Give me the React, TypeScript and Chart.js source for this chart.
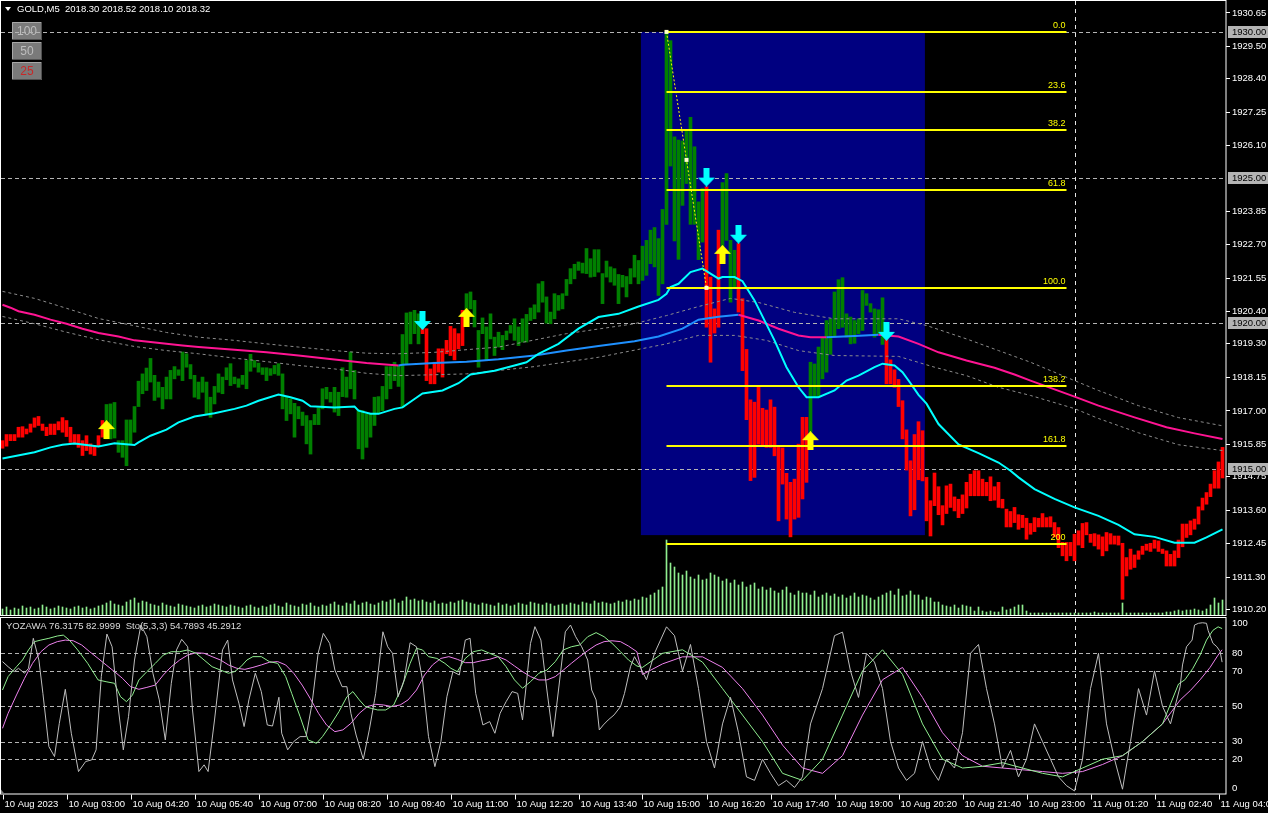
import React, { useEffect, useRef } from "react";
import { Chart, registerables } from "chart.js";

Chart.register(...registerables);

const FONT = "'Liberation Sans', Arial, sans-serif";
const FS = 9.5;

// ---------- price bars (5-minute, GOLD) ----------
const barLow = [
  1915.72,1915.79,1915.98,1915.98,1916.10,1916.10,1916.21,1916.27,1916.44,1916.50,
  1916.33,1916.15,1916.19,1916.19,1916.35,1916.27,1916.12,1915.92,1915.87,1915.75,
  1915.47,1915.64,1915.52,1915.47,1915.78,1916.10,1916.04,1916.04,1916.07,1915.58,
  1915.41,1915.12,1915.84,1916.27,1917.15,1917.59,1917.70,1917.99,1917.36,1917.47,
  1917.07,1917.41,1917.41,1918.10,1918.22,1918.04,1918.50,1918.10,1917.47,1917.41,
  1917.64,1916.90,1916.78,1917.24,1917.64,1917.59,1918.07,1917.87,1917.93,1917.81,
  1917.91,1917.76,1918.36,1918.50,1918.33,1918.25,1918.04,1918.22,1918.27,1918.22,
  1917.07,1916.67,1916.90,1916.10,1916.73,1916.50,1915.87,1915.52,1916.53,1916.53,
  1917.07,1917.41,1917.30,1916.96,1916.84,1917.49,1917.47,1917.76,1917.41,1915.70,
  1915.35,1915.75,1916.10,1916.50,1916.90,1917.01,1917.41,1917.76,1918.04,1917.84,
  1917.13,1918.62,1919.30,1919.65,1919.30,1919.65,1918.04,1917.93,1917.93,1918.33,
  1918.16,1918.96,1918.90,1918.75,1919.13,1919.24,1920.45,1920.50,1919.88,1918.50,
  1919.65,1918.73,1919.47,1918.90,1919.19,1919.10,1919.44,1919.67,1919.42,1919.24,
  1919.36,1919.36,1920.10,1920.16,1920.39,1920.73,1920.01,1919.99,1920.16,1920.45,
  1920.50,1920.96,1921.36,1921.53,1921.82,1921.73,1921.71,1921.59,1921.61,1921.76,
  1920.68,1921.59,1921.42,1921.31,1920.68,1921.25,1920.91,1921.36,1921.59,1921.36,
  1921.48,1921.65,1922.05,1921.94,1920.96,1921.36,1923.40,1925.40,1922.83,1922.20,
  1924.05,1924.80,1923.40,1923.40,1922.19,1922.79,1919.87,1918.67,1919.67,1919.87,
  1922.51,1922.85,1920.73,1921.25,1920.39,1918.38,1916.70,1914.61,1914.72,1915.86,
  1915.81,1915.75,1915.75,1915.46,1913.23,1914.49,1913.29,1912.68,1913.29,1913.35,
  1913.98,1914.55,1916.27,1917.47,1917.47,1918.10,1918.33,1918.94,1919.53,1919.82,
  1919.87,1919.53,1919.30,1919.32,1919.65,1919.76,1920.62,1920.39,1919.53,1919.65,
  1919.28,1917.93,1917.93,1917.81,1917.15,1916.04,1914.97,1913.40,1913.61,1914.64,
  1914.60,1913.23,1912.71,1913.75,1913.44,1913.09,1913.48,1913.69,1913.57,1913.34,
  1913.48,1913.67,1914.09,1914.09,1914.09,1914.09,1914.09,1913.92,1913.94,1913.69,
  1913.67,1913.02,1913.02,1913.17,1912.94,1913.00,1912.60,1912.77,1912.86,1913.02,
  1913.02,1913.02,1913.02,1912.68,1912.31,1912.03,1911.86,1912.03,1911.86,1912.40,
  1912.31,1912.75,1912.49,1912.37,1912.26,1912.03,1912.20,1912.43,1912.43,1912.40,
  1910.54,1911.34,1911.57,1911.63,1911.91,1912.08,1912.22,1912.18,1912.29,1912.18,
  1912.11,1911.68,1911.68,1911.68,1911.97,1912.34,1912.66,1912.75,1912.94,1913.12,
  1913.60,1913.80,1914.06,1914.35,1914.35,1914.70,
];
const barHigh = [
  1915.98,1916.19,1916.19,1916.19,1916.44,1916.46,1916.38,1916.55,1916.76,1916.81,
  1916.55,1916.44,1916.55,1916.55,1916.63,1916.77,1916.67,1916.44,1916.19,1916.19,
  1915.98,1916.15,1915.87,1915.81,1916.15,1916.67,1917.22,1917.24,1917.29,1915.98,
  1915.98,1916.69,1916.69,1917.15,1918.02,1918.27,1918.47,1918.80,1918.22,1917.99,
  1917.81,1918.16,1918.39,1918.52,1918.41,1919.02,1918.96,1918.59,1918.22,1917.99,
  1918.16,1917.99,1917.47,1917.84,1918.27,1918.16,1918.48,1918.62,1918.16,1918.10,
  1918.22,1918.73,1918.94,1918.73,1918.64,1918.48,1918.48,1918.45,1918.56,1918.62,
  1918.27,1917.47,1917.41,1917.26,1917.15,1916.96,1916.84,1916.67,1916.88,1917.10,
  1917.76,1917.81,1917.64,1917.81,1917.64,1918.48,1918.16,1919.02,1918.39,1917.04,
  1917.01,1916.90,1916.92,1917.47,1917.49,1917.84,1918.52,1918.52,1918.67,1918.56,
  1919.62,1920.36,1920.39,1920.45,1920.33,1920.25,1919.82,1918.44,1918.67,1919.13,
  1919.13,1919.42,1919.90,1919.82,1919.65,1920.45,1921.02,1921.08,1920.79,1919.76,
  1920.19,1919.88,1920.33,1919.53,1919.70,1919.59,1919.74,1919.93,1920.16,1919.88,
  1920.16,1920.31,1920.53,1920.64,1921.36,1921.44,1920.91,1920.39,1921.02,1920.96,
  1921.02,1921.51,1921.88,1922.03,1922.11,1922.07,1922.57,1922.22,1922.53,1922.53,
  1921.71,1922.14,1921.94,1921.88,1921.68,1921.65,1921.61,1921.88,1922.34,1922.16,
  1922.65,1922.85,1923.20,1923.29,1922.91,1923.91,1930.01,1929.70,1926.40,1926.29,
  1926.26,1926.63,1927.07,1926.06,1924.17,1924.63,1924.69,1921.59,1920.50,1923.20,
  1924.83,1925.14,1922.85,1922.51,1922.74,1920.85,1919.11,1917.38,1917.30,1917.87,
  1917.09,1917.03,1917.38,1917.13,1915.75,1915.73,1914.86,1914.55,1914.66,1915.86,
  1916.78,1916.78,1918.67,1918.61,1919.19,1919.51,1920.10,1920.16,1921.08,1921.50,
  1921.57,1920.33,1920.22,1920.10,1920.16,1921.13,1921.02,1920.68,1920.50,1920.47,
  1920.88,1919.65,1918.75,1918.41,1918.08,1917.35,1916.35,1915.29,1916.19,1916.63,
  1916.32,1914.72,1913.92,1914.87,1914.40,1913.75,1914.43,1914.49,1914.05,1913.97,
  1914.12,1914.55,1914.83,1914.95,1914.95,1914.66,1914.55,1914.74,1914.40,1914.55,
  1913.97,1913.63,1913.55,1913.69,1913.44,1913.42,1913.32,1913.14,1913.34,1913.32,
  1913.48,1913.34,1913.37,1913.17,1913.00,1912.49,1912.49,1912.49,1912.77,1912.89,
  1913.14,1913.17,1912.77,1912.79,1912.75,1912.68,1912.83,1912.79,1912.71,1912.71,
  1912.46,1911.97,1912.26,1912.06,1912.20,1912.36,1912.43,1912.46,1912.57,1912.54,
  1912.26,1912.20,1912.08,1912.20,1912.57,1913.12,1913.12,1913.23,1913.29,1913.71,
  1914.01,1914.20,1914.49,1914.95,1915.25,1915.75,
];
const tickVolume = [
  60,80,50,70,60,90,70,80,60,70,100,80,60,70,90,80,70,60,80,90,70,80,60,70,90,100,
  120,140,110,100,90,130,150,170,120,140,130,110,100,90,120,
  100,90,80,110,100,90,80,70,90,100,80,90,110,100,90,80,100,90,80,70,
  90,100,80,70,90,80,100,110,90,80,120,100,90,80,110,100,120,90,80,100,90,110,130,100,90,120,110,140,100,120,
  130,110,100,120,140,130,150,160,120,140,180,150,160,140,150,130,120,140,110,120,
  110,130,120,140,150,130,120,110,100,120,110,100,90,120,100,110,90,100,120,110,100,130,120,110,100,120,110,90,100,110,
  100,120,110,100,130,120,110,140,120,130,120,110,120,140,130,150,140,160,150,180,170,200,220,250,280,
  750,520,480,420,400,440,380,360,400,350,
  360,420,400,380,340,360,320,350,300,330,280,300,320,260,280,250,270,240,220,250,280,220,200,240,220,
  220,200,240,180,200,220,190,210,180,200,170,190,220,180,200,190,170,150,180,200,220,240,200,260,190,
  200,240,200,200,150,180,170,130,130,100,90,80,100,70,100,
  90,80,40,80,40,30,40,30,30,80,50,60,80,100,100,40,20,20,20,20,20,20,20,20,20,20,20,20,
  20,20,20,20,30,20,20,20,20,20,20,120,20,20,20,20,20,20,20,20,20,20,30,30,40,
  50,40,50,50,60,50,40,60,100,170,120,150,
];

// ---------- signals (arrows) ----------
const signalIdx = [26, 105, 116, 176, 180, 184, 202, 221];
const signalDir = [1, -1, 1, -1, 1, -1, 1, -1];
const signalPrice = [1916.36, 1920.10, 1920.21, 1925.02, 1922.37, 1923.06, 1915.98, 1919.73];

// ---------- moving averages ----------
const fastMaIdx = [0,8,12,15,18,22,24,28,33,34,37,41,44,48,53,58,61,64,69,72,75,77,83,88,89,92,94,98,100,103,105,110,114,117,123,128,131,134,139,144,149,154,159,164,166,167,169,172,175,179,180,183,185,188,193,196,199,201,204,208,211,214,218,220,223,225,227,229,231,234,239,244,249,252,254,258,263,268,274,279,283,288,293,298,301,305];
const fastMaVal = [1915.37,1915.58,1915.75,1915.84,1915.88,1915.81,1915.78,1915.89,1915.83,1915.92,1916.15,1916.36,1916.61,1916.81,1916.92,1917.07,1917.18,1917.35,1917.56,1917.47,1917.35,1917.16,1917.12,1917.15,1917.01,1916.90,1916.90,1917.07,1917.12,1917.41,1917.60,1917.70,1917.95,1918.25,1918.38,1918.56,1918.67,1918.96,1919.30,1919.82,1920.22,1920.33,1920.58,1920.81,1921.02,1921.25,1921.36,1921.76,1921.88,1921.54,1921.59,1921.59,1921.45,1920.79,1919.42,1918.50,1917.81,1917.47,1917.47,1917.70,1918.04,1918.21,1918.50,1918.62,1918.56,1918.33,1917.95,1917.55,1917.25,1916.55,1915.85,1915.55,1915.23,1914.95,1914.72,1914.32,1913.98,1913.69,1913.40,1913.09,1912.77,1912.68,1912.48,1912.48,1912.66,1912.94];

const slowMaIdx = [0,2,4,8,12,16,20,24,29,33,37,41,45,49,58,66,74,83,91,99,100,108,116,124,133,141,149,158,164,170,174,179,184,189,194,199,202,206,213,219,224,229,234,241,248,253,257,268,274,283,291,298,305];
const slowMaVal = [1920.64,1920.54,1920.42,1920.30,1920.13,1919.99,1919.82,1919.67,1919.55,1919.42,1919.36,1919.30,1919.24,1919.19,1919.10,1919.01,1918.90,1918.76,1918.64,1918.56,1918.58,1918.64,1918.69,1918.77,1918.90,1919.07,1919.23,1919.39,1919.55,1919.82,1920.13,1920.23,1920.30,1920.10,1919.82,1919.59,1919.53,1919.53,1919.57,1919.61,1919.55,1919.30,1919.01,1918.73,1918.48,1918.25,1918.04,1917.49,1917.18,1916.78,1916.44,1916.23,1916.04];

const envUpIdx = [0,8,16,24,33,41,49,58,66,74,83,91,99,108,124,141,158,166,174,182,189,198,208,224,231,241,249,257,268,274,284,294,305];
const envUpVal = [1921.10,1920.86,1920.52,1920.17,1919.92,1919.69,1919.53,1919.42,1919.30,1919.19,1919.07,1918.98,1918.96,1919.01,1919.19,1919.65,1919.99,1920.27,1920.58,1920.86,1920.72,1920.38,1920.16,1920.16,1919.93,1919.47,1919.07,1918.67,1918.04,1917.70,1917.18,1916.77,1916.49];
const envLoIdx = [0,8,16,24,33,41,49,58,66,74,83,91,99,116,133,149,166,174,183,191,199,208,224,233,241,249,257,268,274,284,294,305];
const envLoVal = [1920.24,1919.99,1919.70,1919.44,1919.21,1919.07,1918.96,1918.81,1918.69,1918.56,1918.44,1918.29,1918.21,1918.27,1918.52,1918.84,1919.30,1919.59,1919.59,1919.42,1919.07,1918.90,1918.87,1918.50,1918.21,1917.81,1917.53,1917.08,1916.74,1916.25,1915.84,1915.64];

// ---------- oscillator (YOZAWA / Sto(5,3,3)) ----------
const oscGrayIdx = [0,1.4,2.9,4,5.5,6.5,7.7,9.1,10.1,11.6,13,14.2,15.7,17.2,19,20.8,22.3,23.4,24.7,26.1,27.4,29,30.2,31.5,33,34.6,36.1,37.6,39.2,40.7,42.2,43.5,44.8,46.3,47.5,49.1,50.4,51.4,53,55,56.3,57.5,59.1,60.4,61.6,63.2,64.7,66.2,67.5,69.1,69.8,71.3,72.8,74.4,75.9,77.4,78.9,80.2,81.8,83.1,84.9,86.1,87.1,88.4,90.2,91.7,93.3,95.1,96.3,97.5,98.9,100.4,101.9,103.5,105,106.5,108.1,109.6,111.1,112.6,114.2,115.7,116.9,118.3,120.1,121.8,123.1,124.4,125.9,127.4,128.8,130,130.8,132,133.1,134.6,136.1,137.6,139,140.7,142,143.3,144.8,146.3,147.3,148.4,149.2,150.2,151.4,152.9,154.5,155.5,157,158,159.4,
  161,163,166,168,170,172,174,176,178,180,182,184,186,188,190,192,194,196,198,200,202,205,208,210,212,214,216,218,220,222,224,226,228,230,232,234,236,238,240,242,244,246,248,250,252,254,256,258,260,262,264,266,268,270,272,274,276,278,280,282,284,286,288,290,292,294.4,295,296,297.4,298,299,300,301,301.4,302.6,303.6,304.4,304.9];
const oscGrayVal = [75.3,72.4,69.6,71.5,68.7,71.5,88.5,76.2,57.3,27.1,21.5,40.3,59.6,34.7,13,18.7,19.6,25.3,66.8,90.9,83.7,47.9,25.3,44.1,76.2,96,89.4,68.7,53.6,30.9,63,81.9,87.9,83.7,47.9,13,16.8,13,42.2,81.9,87.5,64.9,51.7,38.5,53.6,68.7,58.3,39.4,38.8,55.1,34.7,25.3,30,32.8,32.8,51.7,80,91.3,85.6,70.5,61.1,61.1,46,33.7,20,36.6,57.3,92.2,83.7,80,55.4,64.9,86,83.7,64.9,32.8,15.8,30,55.4,69.6,67.7,87.5,88.5,57.3,39.4,41.3,34.7,46,52.6,58.3,57.3,42.2,59.2,85.6,95.1,87.5,59.2,32.8,59.2,92.2,96,89.4,83.7,76.2,59.2,53.6,36.6,39.4,42.2,45.1,49.8,57.3,72.4,78.1,72.4,
  65,80,95,90,70,85,60,30,15,40,55,35,10,8,20,12,5,8,4,10,40,60,90,92,70,55,80,75,60,30,15,8,12,30,15,8,20,15,35,80,85,60,40,15,25,10,20,40,30,20,10,5,2,20,60,80,40,20,3,30,60,45,70,50,40,61,73.4,83.7,87.5,96,97,97.3,97,93,85.7,83.7,81,75];

const oscGreenIdx = [0,1.4,3.5,5,6.5,8,9.6,11.6,13.7,15.2,16.7,18.8,21.3,23.9,25.9,28,29.5,31,32.5,34.1,36.1,38.2,40.2,42.2,44.3,46.3,48.4,50.4,52.4,54.5,56.5,58,59.6,61.1,62.6,64.7,66.7,68.8,70.8,72.3,74.4,76.4,78.5,80,82,84.1,86.1,87.6,89.2,90.7,92.2,93.8,95.8,97.8,99.9,101.9,103.5,105,106.5,108.6,110.6,112.1,113.7,115.7,117.7,119.8,121.8,123.9,125.9,128,130,132,134.1,136.1,138.2,140.2,142.2,144.3,146.3,148.4,150.4,152.4,154.5,156.5,158.6,
  160,165,170,175,180,185,190,195,200,205,210,215,220,225,230,235,240,245,250,255,260,265,270,275,280,285,290,294,295.6,297.6,299.4,301,302.6,303.9,304.9];
const oscGreenVal = [59.2,66.8,72.4,76.2,81.9,86.6,87.5,88.5,89.8,90.3,87.5,81.9,74.3,64.9,63.9,63,55.4,52.6,56.4,64.9,69.6,74.3,79,80.9,80.9,81.9,80,76.2,72.4,70.5,68.7,69.6,72.4,76.2,78.1,78.1,75.3,74.3,66.8,57.3,44.1,30.9,29,32.8,39.4,46.9,55.4,58.3,53.6,49.8,48.8,47.9,47.9,50.7,61.1,74.3,82.8,81.9,78.1,77.1,74.3,71.5,69.6,77.1,80.9,81.9,80,78.1,72.4,64.9,60.2,63.9,68.7,70.5,75.3,81.9,83.7,84.7,89.4,91.7,89.4,85.6,80.9,76.2,72.8,
  72,80,82,75,60,45,30,12,8,20,45,70,82,68,40,20,15,16,18,15,12,10,15,20,22,30,40,62.6,65,71.5,79,87.5,93,95,94];

const oscVioletIdx = [0,1.4,3.5,5.5,7.5,9.6,11.6,13.7,15.7,17.7,19.8,21.8,23.9,25.9,28,30,32,34.1,36.1,38.2,40.2,42.2,44.3,46.3,48.4,50.4,52.4,54.5,56.5,58.6,60.6,62.6,64.7,66.7,68.8,70.8,72.8,74.9,76.9,79,81,83.1,85.1,87.1,89.2,91.2,93.3,95.3,97.3,99.4,101.4,103.5,105.5,107.5,109.6,111.6,113.7,115.7,117.7,119.8,121.8,123.9,125.9,128,130,132,134.1,136.1,138.2,140.2,142.2,144.3,146.3,148.4,150.4,152.4,154.5,156.5,158.6,
  160,165,170,175,180,185,190,195,200,205,210,215,220,225,230,235,240,245,250,255,260,265,270,275,280,285,290,294.4,297,299.4,301.9,303.9,304.9];
const oscVioletVal = [37.5,46,56.4,65.8,74.3,80.9,84.7,86.6,87.5,87.1,84.7,80.9,77.1,73.4,69.6,65.8,61.1,59.6,60.7,62,67.7,72.4,76.2,79,80.3,80,78.1,76.2,73.4,71.5,70.9,72,73.4,74.9,75.3,73.4,68.7,62,54.5,46,39.4,35.6,36.6,40.3,46,49.8,51.1,50.7,49.8,50.7,53.6,59.2,67.7,73.4,77.1,78.1,76.6,74.7,74.7,75.8,76.6,78.1,76.2,72.8,69.6,66.8,64.9,64.9,66.8,70.5,74.3,78.1,81.5,84.7,86.6,87.1,86.6,84.1,80.9,
  68,74,78,78,72,60,45,28,15,12,22,45,65,72,55,35,22,16,15,14,13,12,13,17,22,30,40,53.5,59,65,72,79,82];

// ---------- axes / annotations ----------
const priceTicks = [1930.65,1929.50,1928.40,1927.25,1926.10,1923.85,1922.70,1921.55,1920.40,1919.30,1918.15,1917.00,1915.85,1914.75,1913.60,1912.45,1911.30,1910.20];
const markedPrices = [1930.0, 1925.0, 1920.0, 1915.0];
const timeTickIdx = [0,16,32,48,64,80,96,112,128,144,160,176,192,208,224,240,256,272,288,304];
const timeTickLabels = ["10 Aug 2023","10 Aug 03:00","10 Aug 04:20","10 Aug 05:40","10 Aug 07:00","10 Aug 08:20","10 Aug 09:40","10 Aug 11:00","10 Aug 12:20","10 Aug 13:40","10 Aug 15:00","10 Aug 16:20","10 Aug 17:40","10 Aug 19:00","10 Aug 20:20","10 Aug 21:40","10 Aug 23:00","11 Aug 01:20","11 Aug 02:40","11 Aug 04:00"];
const daySeparatorIdx = 268;
const oscLevels = [80, 70, 50, 30, 20];
const oscAxisLabels = [100, 80, 70, 50, 30, 20, 0];

const fibStartIdx = 166;
const fibEndIdx = 266;
const fibTrendEndIdx = 176;
const fibHigh = 1930.0;
const fibLow = 1921.22;
const fibLevels = [0, 23.6, 38.2, 61.8, 100, 138.2, 161.8, 200];
const fibLabels = ["0.0", "23.6", "38.2", "61.8", "100.0", "138.2", "161.8", "200"];
const boxLeftIdx = 159.6;
const boxRightIdx = 230.6;
const boxTop = 1930.0;
const boxBottom = 1912.74;

const headerText = "GOLD,M5  2018.30 2018.52 2018.10 2018.32";
const oscLegend = "YOZAWA 76.3175 82.9999  Sto(5,3,3) 54.7893 45.2912";
const buttonLabels = ["100", "50", "25"];

const X_MIN = -0.375;
const X_MAX = 305.875;

function trendOf(i: number) {
  let d = -1;
  for (let k = 0; k < signalIdx.length; k++) if (signalIdx[k] <= i) d = signalDir[k];
  return d;
}
function pairs(idx: number[], val: number[]) {
  return idx.map((x, k) => ({ x, y: val[k] }));
}
function makeArrow(color: string, up: boolean) {
  const c = document.createElement("canvas");
  c.width = 17;
  c.height = 19;
  const g = c.getContext("2d")!;
  g.fillStyle = color;
  g.beginPath();
  if (up) {
    g.moveTo(8.5, 0); g.lineTo(17, 9); g.lineTo(11.5, 9); g.lineTo(11.5, 19);
    g.lineTo(5.5, 19); g.lineTo(5.5, 9); g.lineTo(0, 9);
  } else {
    g.moveTo(8.5, 19); g.lineTo(17, 10); g.lineTo(11.5, 10); g.lineTo(11.5, 0);
    g.lineTo(5.5, 0); g.lineTo(5.5, 10); g.lineTo(0, 10);
  }
  g.closePath();
  g.fill();
  return c;
}

const mainDecor = {
  id: "mainDecor",
  beforeDatasetsDraw(chart: any) {
    const { ctx, chartArea: a } = chart;
    const x = chart.scales.x, y = chart.scales.y;
    ctx.save();
    const bx0 = x.getPixelForValue(boxLeftIdx), bx1 = x.getPixelForValue(boxRightIdx);
    const by0 = y.getPixelForValue(boxTop), by1 = y.getPixelForValue(boxBottom);
    ctx.fillStyle = "#000080";
    ctx.fillRect(bx0, by0, bx1 - bx0, by1 - by0);
    buttonLabels.forEach((t, k) => {
      const top = 22 + k * 20;
      ctx.fillStyle = "#7A7A7A";
      ctx.fillRect(12, top, 30, 18);
      ctx.strokeStyle = "#A8A8A8";
      ctx.lineWidth = 1;
      ctx.beginPath(); ctx.moveTo(12.5, top + 18); ctx.lineTo(12.5, top + 0.5); ctx.lineTo(42, top + 0.5); ctx.stroke();
      ctx.strokeStyle = "#505050";
      ctx.beginPath(); ctx.moveTo(41.5, top); ctx.lineTo(41.5, top + 17.5); ctx.lineTo(12, top + 17.5); ctx.stroke();
      ctx.fillStyle = k === 2 ? "#C82828" : "#BEBEBE";
      ctx.font = "12px " + FONT;
      ctx.textAlign = "center";
      ctx.textBaseline = "middle";
      ctx.fillText(t, 27, top + 9.5);
    });
    ctx.setLineDash([4, 3]);
    ctx.strokeStyle = "#B4B4B4";
    ctx.lineWidth = 1;
    markedPrices.forEach((p) => {
      const yy = Math.round(y.getPixelForValue(p)) + 0.5;
      ctx.beginPath(); ctx.moveTo(a.left, yy); ctx.lineTo(a.right, yy); ctx.stroke();
    });
    ctx.strokeStyle = "#E6E6E6";
    ctx.setLineDash([4, 4]);
    const sx = Math.round(x.getPixelForValue(daySeparatorIdx)) + 0.5;
    ctx.beginPath(); ctx.moveTo(sx, a.top); ctx.lineTo(sx, a.bottom); ctx.stroke();
    ctx.restore();
  },
  afterDatasetsDraw(chart: any) {
    const { ctx } = chart;
    const x = chart.scales.x, y = chart.scales.y;
    ctx.save();
    const fx0 = x.getPixelForValue(fibStartIdx), fx1 = x.getPixelForValue(fibEndIdx);
    ctx.strokeStyle = "#FFFF00";
    ctx.fillStyle = "#FFFF00";
    ctx.lineWidth = 2;
    ctx.font = "9px " + FONT;
    ctx.textAlign = "right";
    ctx.textBaseline = "bottom";
    fibLevels.forEach((lv, k) => {
      const p = fibHigh - (fibHigh - fibLow) * lv / 100;
      const yy = Math.round(y.getPixelForValue(p));
      ctx.beginPath(); ctx.moveTo(fx0, yy); ctx.lineTo(fx1, yy); ctx.stroke();
      ctx.fillText(fibLabels[k], fx1 - 1, yy - 2);
    });
    const tx1 = x.getPixelForValue(fibTrendEndIdx);
    const ty0 = y.getPixelForValue(fibHigh), ty1 = y.getPixelForValue(fibLow);
    ctx.lineWidth = 1;
    ctx.setLineDash([2, 2]);
    ctx.beginPath(); ctx.moveTo(fx0, ty0); ctx.lineTo(tx1, ty1); ctx.stroke();
    ctx.setLineDash([]);
    ctx.fillStyle = "#FFFFC8";
    [[fx0, ty0], [(fx0 + tx1) / 2, (ty0 + ty1) / 2], [tx1, ty1]].forEach(([px, py]) => {
      ctx.fillRect(px - 2, py - 2, 4, 4);
    });
    ctx.fillStyle = "#FFFFFF";
    ctx.beginPath(); ctx.moveTo(5, 7); ctx.lineTo(11, 7); ctx.lineTo(8, 11); ctx.closePath(); ctx.fill();
    ctx.font = FS + "px " + FONT;
    ctx.textAlign = "left";
    ctx.textBaseline = "middle";
    ctx.fillText(headerText, 17, 9.5);
    ctx.restore();
  },
  afterDraw(chart: any) {
    const { ctx, chartArea: a } = chart;
    const y = chart.scales.y;
    ctx.save();
    ctx.strokeStyle = "#FFFFFF";
    ctx.lineWidth = 1;
    ctx.strokeRect(0.5, 0.5, a.right - 0.5, a.bottom);
    ctx.font = FS + "px " + FONT;
    ctx.textAlign = "left";
    ctx.textBaseline = "middle";
    markedPrices.forEach((p) => {
      const yy = Math.round(y.getPixelForValue(p));
      ctx.fillStyle = "#B4B4B4";
      ctx.fillRect(a.right + 2, yy - 6, 40, 12);
      ctx.fillStyle = "#000000";
      ctx.fillText(p.toFixed(2), a.right + 6, yy + 0.5);
    });
    ctx.restore();
  },
};

const oscDecor = {
  id: "oscDecor",
  beforeDatasetsDraw(chart: any) {
    const { ctx, chartArea: a } = chart;
    const x = chart.scales.x, y = chart.scales.y;
    ctx.save();
    ctx.strokeStyle = "#B4B4B4";
    ctx.lineWidth = 1;
    ctx.setLineDash([4, 3]);
    oscLevels.forEach((v) => {
      const yy = Math.round(y.getPixelForValue(v)) + 0.5;
      ctx.beginPath(); ctx.moveTo(a.left, yy); ctx.lineTo(a.right, yy); ctx.stroke();
    });
    ctx.strokeStyle = "#E6E6E6";
    ctx.setLineDash([4, 4]);
    const sx = Math.round(x.getPixelForValue(daySeparatorIdx)) + 0.5;
    ctx.beginPath(); ctx.moveTo(sx, a.top); ctx.lineTo(sx, a.bottom); ctx.stroke();
    ctx.restore();
  },
  afterDraw(chart: any) {
    const { ctx, chartArea: a } = chart;
    const x = chart.scales.x, y = chart.scales.y;
    ctx.save();
    ctx.strokeStyle = "#FFFFFF";
    ctx.lineWidth = 1;
    ctx.strokeRect(0.5, a.top - 0.5, a.right - 0.5, a.bottom - a.top);
    ctx.fillStyle = "#FFFFFF";
    ctx.font = FS + "px " + FONT;
    ctx.textAlign = "left";
    ctx.textBaseline = "middle";
    oscAxisLabels.forEach((v) => {
      let yy = y.getPixelForValue(v);
      yy = Math.min(Math.max(yy, a.top + 5), a.bottom - 6);
      ctx.fillText(String(v), a.right + 6, yy);
    });
    timeTickIdx.forEach((idx, k) => {
      const px = Math.round(x.getPixelForValue(idx)) + 0.5;
      ctx.beginPath(); ctx.moveTo(px, a.bottom); ctx.lineTo(px, a.bottom + 5); ctx.stroke();
      ctx.fillText(timeTickLabels[k], px + 1, a.bottom + 10);
    });
    ctx.fillStyle = "#DCDCDC";
    ctx.fillText(oscLegend, 6, a.top + 8);
    ctx.fillStyle = "#808080";
    ctx.beginPath(); ctx.moveTo(1, a.bottom - 5); ctx.lineTo(1, a.bottom); ctx.lineTo(5, a.bottom); ctx.closePath(); ctx.fill();
    ctx.restore();
  },
};

export default function App() {
  const mainRef = useRef<HTMLCanvasElement>(null);
  const oscRef = useRef<HTMLCanvasElement>(null);

  useEffect(() => {
    document.body.style.margin = "0";
    document.body.style.background = "#000";
    Chart.defaults.font.family = FONT;
    const upImg = makeArrow("#FFFF00", true);
    const dnImg = makeArrow("#00FFFF", false);
    const upPts: any[] = [], dnPts: any[] = [];
    signalIdx.forEach((i, k) => (signalDir[k] > 0 ? upPts : dnPts).push({ x: i, y: signalPrice[k] }));

    const main = new Chart(mainRef.current!, {
      type: "bar",
      data: {
        datasets: [
          { type: "bar", data: tickVolume.map((v, i) => ({ x: i, y: v })), yAxisID: "yv", backgroundColor: "#90EE90", barThickness: 1, grouped: false, order: 10 } as any,
          { type: "bar", data: barLow.map((lo, i) => ({ x: i, y: [lo, barHigh[i]] })), backgroundColor: barLow.map((_, i) => (trendOf(i) > 0 ? "#008000" : "#FF0000")), barThickness: 3, grouped: false, order: 8, borderWidth: 0 } as any,
          { type: "line", data: pairs(envUpIdx, envUpVal), borderColor: "#8C8C8C", borderWidth: 1, borderDash: [3, 3], pointRadius: 0, order: 7 } as any,
          { type: "line", data: pairs(envLoIdx, envLoVal), borderColor: "#8C8C8C", borderWidth: 1, borderDash: [3, 3], pointRadius: 0, order: 7 } as any,
          { type: "line", data: pairs(slowMaIdx, slowMaVal), borderColor: "#FF1493", borderWidth: 2, pointRadius: 0, order: 6,
            segment: { borderColor: (c: any) => (c.p1.parsed.y > c.p0.parsed.y ? "#1E90FF" : "#FF1493") } } as any,
          { type: "line", data: pairs(fastMaIdx, fastMaVal), borderColor: "#00FFFF", borderWidth: 2, pointRadius: 0, order: 5 } as any,
          { type: "line", data: upPts, showLine: false, pointStyle: upImg, pointRadius: 9, order: 1 } as any,
          { type: "line", data: dnPts, showLine: false, pointStyle: dnImg, pointRadius: 9, order: 1 } as any,
        ],
      },
      options: {
        animation: false,
        responsive: false,
        devicePixelRatio: 1,
        events: [],
        layout: { autoPadding: false, padding: { left: 1, top: 1, right: 0, bottom: 1 } },
        plugins: { legend: { display: false }, tooltip: { enabled: false } },
        scales: {
          x: { type: "linear", min: X_MIN, max: X_MAX, display: false, offset: false },
          y: {
            position: "right", min: 1910.0, max: 1931.06,
            afterFit: (s: any) => { s.width = 42; s.paddingTop = 0; s.paddingBottom = 0; },
            afterBuildTicks: (s: any) => { s.ticks = priceTicks.map((v) => ({ value: v })); },
            ticks: { color: "#FFFFFF", autoSkip: false, padding: 2, font: { size: FS, family: FONT }, callback: (v: any) => Number(v).toFixed(2) },
            grid: { drawOnChartArea: false, color: "#FFFFFF", tickLength: 4 },
            border: { display: false },
          },
          yv: { display: false, min: 0, max: 6140 },
        },
      } as any,
      plugins: [mainDecor],
    });

    const osc = new Chart(oscRef.current!, {
      type: "line",
      data: {
        datasets: [
          { data: pairs(oscGrayIdx, oscGrayVal), borderColor: "#BEBEBE", borderWidth: 1, pointRadius: 0 },
          { data: pairs(oscGreenIdx, oscGreenVal), borderColor: "#90EE90", borderWidth: 1, pointRadius: 0 },
          { data: pairs(oscVioletIdx, oscVioletVal), borderColor: "#EE82EE", borderWidth: 1, pointRadius: 0 },
        ],
      },
      options: {
        animation: false,
        responsive: false,
        devicePixelRatio: 1,
        events: [],
        layout: { autoPadding: false, padding: { left: 1, top: 2, right: 42, bottom: 18.5 } },
        plugins: { legend: { display: false }, tooltip: { enabled: false } },
        scales: {
          x: { type: "linear", min: X_MIN, max: X_MAX, display: false },
          y: { display: false, min: 0, max: 100 },
        },
      } as any,
      plugins: [oscDecor],
    });

    return () => {
      main.destroy();
      osc.destroy();
    };
  }, []);

  return (
    <div style={{ position: "fixed", left: 0, top: 0, width: 1268, height: 813, background: "#000", overflow: "hidden" }}>
      <canvas ref={mainRef} width={1268} height={616} style={{ position: "absolute", left: 0, top: 0, width: 1268, height: 616 }} />
      <canvas ref={oscRef} width={1268} height={197} style={{ position: "absolute", left: 0, top: 616, width: 1268, height: 197 }} />
    </div>
  );
}
